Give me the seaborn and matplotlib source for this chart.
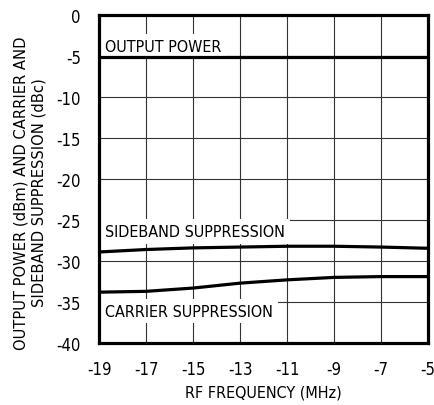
import numpy as np
import pandas as pd
import seaborn as sns
import matplotlib
matplotlib.use("Agg")
import matplotlib.pyplot as plt

sns.set_style("white")
plt.rcParams['font.family'] = ['Liberation Sans Narrow', 'DejaVu Sans Condensed', 'DejaVu Sans']
plt.rcParams['font.stretch'] = 'condensed'
plt.rcParams['text.color'] = 'black'
plt.rcParams['axes.labelcolor'] = 'black'

# data
freq = [-19, -17, -15, -13, -11, -9, -7, -5]
output_power = [-5.1, -5.1, -5.1, -5.1, -5.1, -5.1, -5.1, -5.1]
sideband = [-28.9, -28.6, -28.4, -28.3, -28.2, -28.2, -28.3, -28.45]
carrier = [-33.8, -33.7, -33.3, -32.7, -32.3, -32.0, -31.9, -31.9]

x_ticks = [-19, -17, -15, -13, -11, -9, -7, -5]
y_ticks = [0, -5, -10, -15, -20, -25, -30, -35, -40]

df = pd.DataFrame({"freq": freq * 3,
                   "val": output_power + sideband + carrier,
                   "series": ["out"] * 8 + ["sb"] * 8 + ["car"] * 8})

fig = plt.figure(figsize=(4.35, 4.06), dpi=100)
ax = fig.add_axes([0.2276, 0.1527, 0.7564, 0.8079])

sns.lineplot(data=df, x="freq", y="val", units="series", estimator=None,
             color="black", linewidth=2.3, ax=ax, zorder=4)

ax.set_xlim(-19, -5)
ax.set_ylim(-40, 0)
ax.set_xticks(x_ticks)
ax.set_yticks(y_ticks)
ax.set_xticklabels([str(t) for t in x_ticks])
ax.set_yticklabels(["0"] + [str(t) for t in y_ticks[1:]])
ax.grid(True, color="#333333", linewidth=0.8)
ax.tick_params(length=0, labelsize=12, colors="black")
ax.tick_params(axis="x", pad=12)
ax.tick_params(axis="y", pad=13)
for s in ax.spines.values():
    s.set_linewidth(2.3)
    s.set_color("black")
    s.set_zorder(5)

ax.set_xlabel("RF FREQUENCY (MHz)", fontsize=11.5, labelpad=5)
ax.set_ylabel("OUTPUT POWER (dBm) AND CARRIER AND\nSIDEBAND SUPPRESSION (dBc)",
              fontsize=11.8, linespacing=1.25)
ax.yaxis.set_label_coords(-0.16, 0.46)

box = dict(facecolor="white", edgecolor="none", pad=3.5)
ax.text(-18.75, -3.8, "OUTPUT POWER", fontsize=11.5, va="center", ha="left",
        bbox=box, zorder=3)
ax.text(-18.75, -26.4, "SIDEBAND SUPPRESSION", fontsize=11.5, va="center", ha="left",
        bbox=box, zorder=3)
ax.text(-18.75, -36.1, "CARRIER SUPPRESSION", fontsize=11.5, va="center", ha="left",
        bbox=box, zorder=3)

fig.savefig("out.png", dpi=100)
